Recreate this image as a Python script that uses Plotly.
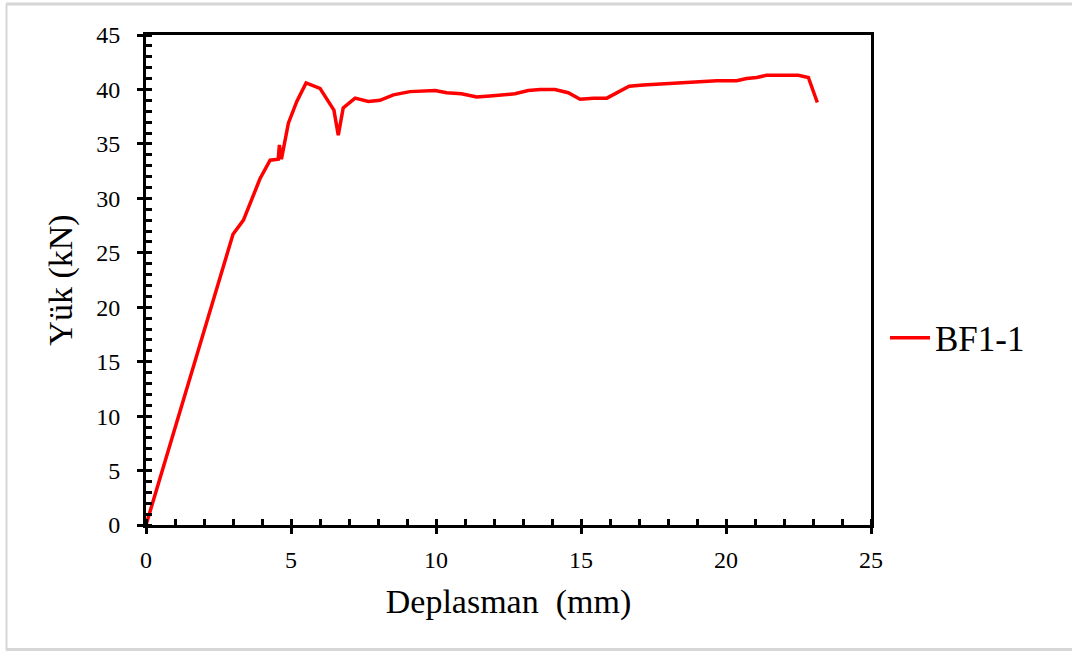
import plotly.graph_objects as go

deplasman = [0.0, 3.0, 3.36, 3.93, 4.28, 4.56, 4.6, 4.67, 4.91, 5.2, 5.52, 6.0, 6.48, 6.63, 6.8,
             7.21, 7.67, 8.07, 8.53, 9.1, 9.97, 10.37, 10.88, 11.4, 11.86, 12.72, 13.18, 13.59,
             14.1, 14.56, 14.97, 15.43, 15.89, 16.23, 16.66, 17.15, 17.72, 18.41, 19.1, 19.68,
             20.37, 20.71, 21.06, 21.4, 21.92, 22.49, 22.84, 23.15]
yuk = [0.0, 26.7, 28.0, 31.8, 33.5, 33.6, 34.9, 33.6, 36.9, 38.9, 40.6, 40.1, 38.1, 35.8, 38.3,
       39.2, 38.9, 39.0, 39.5, 39.8, 39.9, 39.7, 39.6, 39.3, 39.4, 39.6, 39.9, 40.0,
       40.0, 39.7, 39.1, 39.2, 39.2, 39.7, 40.3, 40.4, 40.5, 40.6, 40.7, 40.8,
       40.8, 41.0, 41.1, 41.3, 41.3, 41.3, 41.1, 38.8]

series_name = "BF1-1"
x_title = "Deplasman  (mm)"
y_title = "Yük (kN)"

FONT = "Liberation Serif, Times New Roman, serif"

fig = go.Figure()
fig.add_trace(go.Scatter(x=deplasman, y=yuk, mode="lines", name=series_name,
                         line=dict(color="#ff0000", width=3.5)))

axis_common = dict(
    showgrid=False, zeroline=False, showline=True, linecolor="black", linewidth=3,
    mirror=True, ticks="outside", ticklen=6, tickwidth=3, tickcolor="black",
    tickfont=dict(family=FONT, size=24, color="black"),
    minor=dict(ticks="inside", ticklen=6, tickwidth=3, tickcolor="black", dtick=1, showgrid=False),
)

fig.update_xaxes(range=[0, 25], dtick=5, tick0=0, ticklabelstandoff=5,
                 title=dict(text=x_title, font=dict(family=FONT, size=34, color="black"), standoff=18),
                 **axis_common)
fig.update_yaxes(range=[0, 45], dtick=5, tick0=0, ticklabelstandoff=12,
                 title=dict(text=y_title, font=dict(family=FONT, size=34, color="black"), standoff=14),
                 **axis_common)

# plot area: x 146..871, y 35..525 in pixels
def px(xp):
    return (xp - 146) / 725.0

def py(yp):
    return (525 - yp) / 490.0

border = "#d6d6d6"
fig.add_shape(type="line", xref="paper", yref="paper", x0=px(6), x1=px(1072), y0=py(4), y1=py(4),
              line=dict(color=border, width=3))
fig.add_shape(type="line", xref="paper", yref="paper", x0=px(6.5), x1=px(6.5), y0=py(4), y1=py(650),
              line=dict(color=border, width=2))
fig.add_shape(type="line", xref="paper", yref="paper", x0=px(6), x1=px(1072), y0=py(649.5), y1=py(649.5),
              line=dict(color=border, width=3))

fig.update_layout(
    width=1072, height=651,
    margin=dict(l=146, r=201, t=35, b=126),
    paper_bgcolor="white", plot_bgcolor="white",
    showlegend=True,
    legend=dict(x=px(885), y=py(338), xanchor="left", yanchor="middle",
                font=dict(family=FONT, size=35, color="black"),
                bgcolor="rgba(0,0,0,0)", itemwidth=40),
)

fig.write_html("out.html")
